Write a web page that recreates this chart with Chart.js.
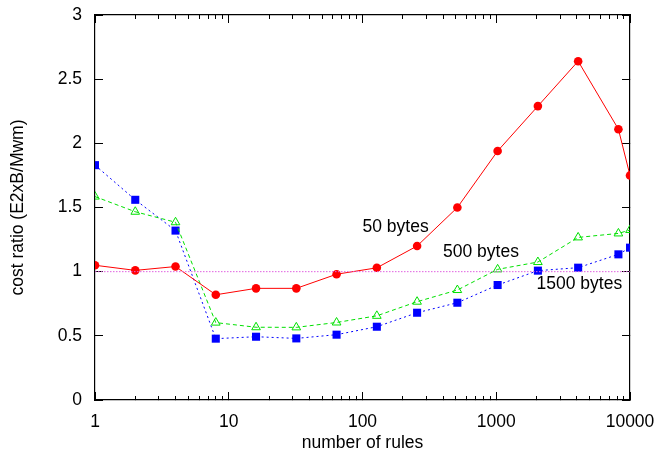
<!DOCTYPE html>
<html>
<head>
<meta charset="utf-8">
<script src="https://cdn.jsdelivr.net/npm/chart.js@4"></script>
<style>
html,body{margin:0;padding:0;background:#fff;}
#wrap{width:669px;height:457px;}
</style>
</head>
<body>
<div id="wrap"><canvas id="c" width="669" height="457"></canvas></div>
<script>
const rules = [1, 2, 4, 8, 16, 32, 64, 128, 256, 512, 1024, 2048, 4096, 8192, 10000];
const bytes50 = [1.05, 1.01, 1.04, 0.82, 0.87, 0.87, 0.98, 1.03, 1.20, 1.50, 1.94, 2.29, 2.64, 2.11, 1.75];
const bytes500 = [1.585, 1.467, 1.385, 0.603, 0.567, 0.566, 0.604, 0.656, 0.766, 0.857, 1.018, 1.075, 1.267, 1.298, 1.325];
const bytes1500 = [1.83, 1.56, 1.32, 0.478, 0.493, 0.480, 0.509, 0.571, 0.680, 0.758, 0.896, 1.008, 1.031, 1.135, 1.187];
const refLine = [1, 1];
const refX = [1, 10000];
const xMajorTicks = [1, 10, 100, 1000, 10000];
const yTicks = [0, 0.5, 1, 1.5, 2, 2.5, 3];
const seriesLabels = [
  {text: '50 bytes', x: 100, y: 1.35},
  {text: '500 bytes', x: 400, y: 1.15},
  {text: '1500 bytes', x: 2000, y: 0.90}
];

const FONT = '"Liberation Sans", Arial, sans-serif';

function pts(xs, ys){ return xs.map((x,i)=>({x:x, y:ys[i]})); }

const xAllTicks = [];
for (let d = 1; d < 10000; d *= 10) {
  for (let m = 1; m < 10; m++) xAllTicks.push(d*m);
}
xAllTicks.push(10000);

// series name labels placed at data coordinates
const labelPlugin = {
  id: 'seriesLabels',
  afterDraw(chart){
    const ctx = chart.ctx;
    const xs = chart.scales.x, ys = chart.scales.y;
    ctx.save();
    ctx.fillStyle = '#000';
    ctx.font = '17.5px ' + FONT;
    ctx.textAlign = 'left';
    ctx.textBaseline = 'middle';
    seriesLabels.forEach(l=>{
      ctx.fillText(l.text, xs.getPixelForValue(l.x), ys.getPixelForValue(l.y));
    });
    ctx.restore();
  }
};

// zero-size axis that only draws inward tick marks (and optionally the frame line)
function tickAxis(type, position, min, max, tickValues, len, showBorder){
  return {
    type: type, position: position, min: min, max: max, weight: 0,
    afterBuildTicks(s){ s.ticks = tickValues.map(v=>({value: v})); },
    afterFit(s){ if (position === 'top' || position === 'bottom') s.height = 0; else s.width = 0; },
    ticks: {display: false},
    grid: {display: true, drawOnChartArea: false, drawTicks: true, tickLength: -len,
      tickColor: '#000', tickWidth: 1},
    border: {display: showBorder, color: '#000', width: 1.2}
  };
}

new Chart(document.getElementById('c'), {
  type: 'line',
  data: {
    datasets: [
      {
        label: 'ref', data: pts(refX, refLine), xAxisID: 'x', yAxisID: 'y',
        borderColor: '#e060e0', borderWidth: 1, borderDash: [1.5, 1.5],
        pointRadius: 0, fill: false
      },
      {
        label: '50 bytes', data: pts(rules, bytes50), xAxisID: 'x', yAxisID: 'y',
        borderColor: '#ff0000', borderWidth: 1,
        pointStyle: 'circle', pointRadius: 4.3, pointBorderWidth: 0,
        pointBackgroundColor: '#ff0000', fill: false
      },
      {
        label: '500 bytes', data: pts(rules, bytes500), xAxisID: 'x', yAxisID: 'y',
        borderColor: '#00e000', borderWidth: 1, borderDash: [4, 3],
        pointStyle: 'triangle', pointRadius: 5, pointBorderWidth: 1,
        pointBackgroundColor: 'rgba(0,0,0,0)', pointBorderColor: '#00e000', fill: false
      },
      {
        label: '1500 bytes', data: pts(rules, bytes1500), xAxisID: 'x', yAxisID: 'y',
        borderColor: '#0000ff', borderWidth: 1, borderDash: [2, 3],
        pointStyle: 'rect', pointRadius: 5.7, pointBorderWidth: 0,
        pointBackgroundColor: '#0000ff', fill: false
      }
    ]
  },
  options: {
    responsive: false,
    animation: false,
    devicePixelRatio: 1,
    layout: {padding: {top: 15, right: 39, left: 0, bottom: 3}},
    plugins: {legend: {display: false}, tooltip: {enabled: false}},
    scales: {
      xBotMinor: tickAxis('logarithmic', 'bottom', 1, 10000, xAllTicks, 4, true),
      xBotMajor: tickAxis('logarithmic', 'bottom', 1, 10000, xMajorTicks, 8, false),
      xTopMinor: tickAxis('logarithmic', 'top', 1, 10000, xAllTicks, 4, true),
      xTopMajor: tickAxis('logarithmic', 'top', 1, 10000, xMajorTicks, 8, false),
      yLeftTicks: tickAxis('linear', 'left', 0, 3, yTicks, 8, true),
      yRightTicks: tickAxis('linear', 'right', 0, 3, yTicks, 8, true),
      x: {
        type: 'logarithmic', min: 1, max: 10000, position: 'bottom', weight: 1,
        grid: {display: false, drawTicks: false},
        border: {display: false},
        afterBuildTicks(s){ s.ticks = xMajorTicks.map(v=>({value: v})); },
        afterFit(s){ s.height = 54; },
        ticks: {
          autoSkip: false, maxRotation: 0, padding: 12,
          color: '#000', font: {family: FONT, size: 17.5},
          callback: v => String(v)
        },
        title: {display: true, text: 'number of rules', color: '#000',
          font: {family: FONT, size: 17.5}, padding: {top: 0, bottom: 0}}
      },
      y: {
        type: 'linear', min: 0, max: 3, position: 'left', weight: 1,
        grid: {display: false, drawTicks: false},
        border: {display: false},
        afterBuildTicks(s){ s.ticks = yTicks.map(v=>({value: v})); },
        afterFit(s){ s.width = 95; },
        ticks: {
          padding: 13, color: '#000', font: {family: FONT, size: 17.5, lineHeight: 0.2},
          callback: v => String(v)
        },
        title: {display: true, text: 'cost ratio (E2xB/Mwm)', color: '#000',
          font: {family: FONT, size: 17.5}, padding: {top: 8, bottom: 0}}
      }
    }
  },
  plugins: [labelPlugin]
});
</script>
</body>
</html>
